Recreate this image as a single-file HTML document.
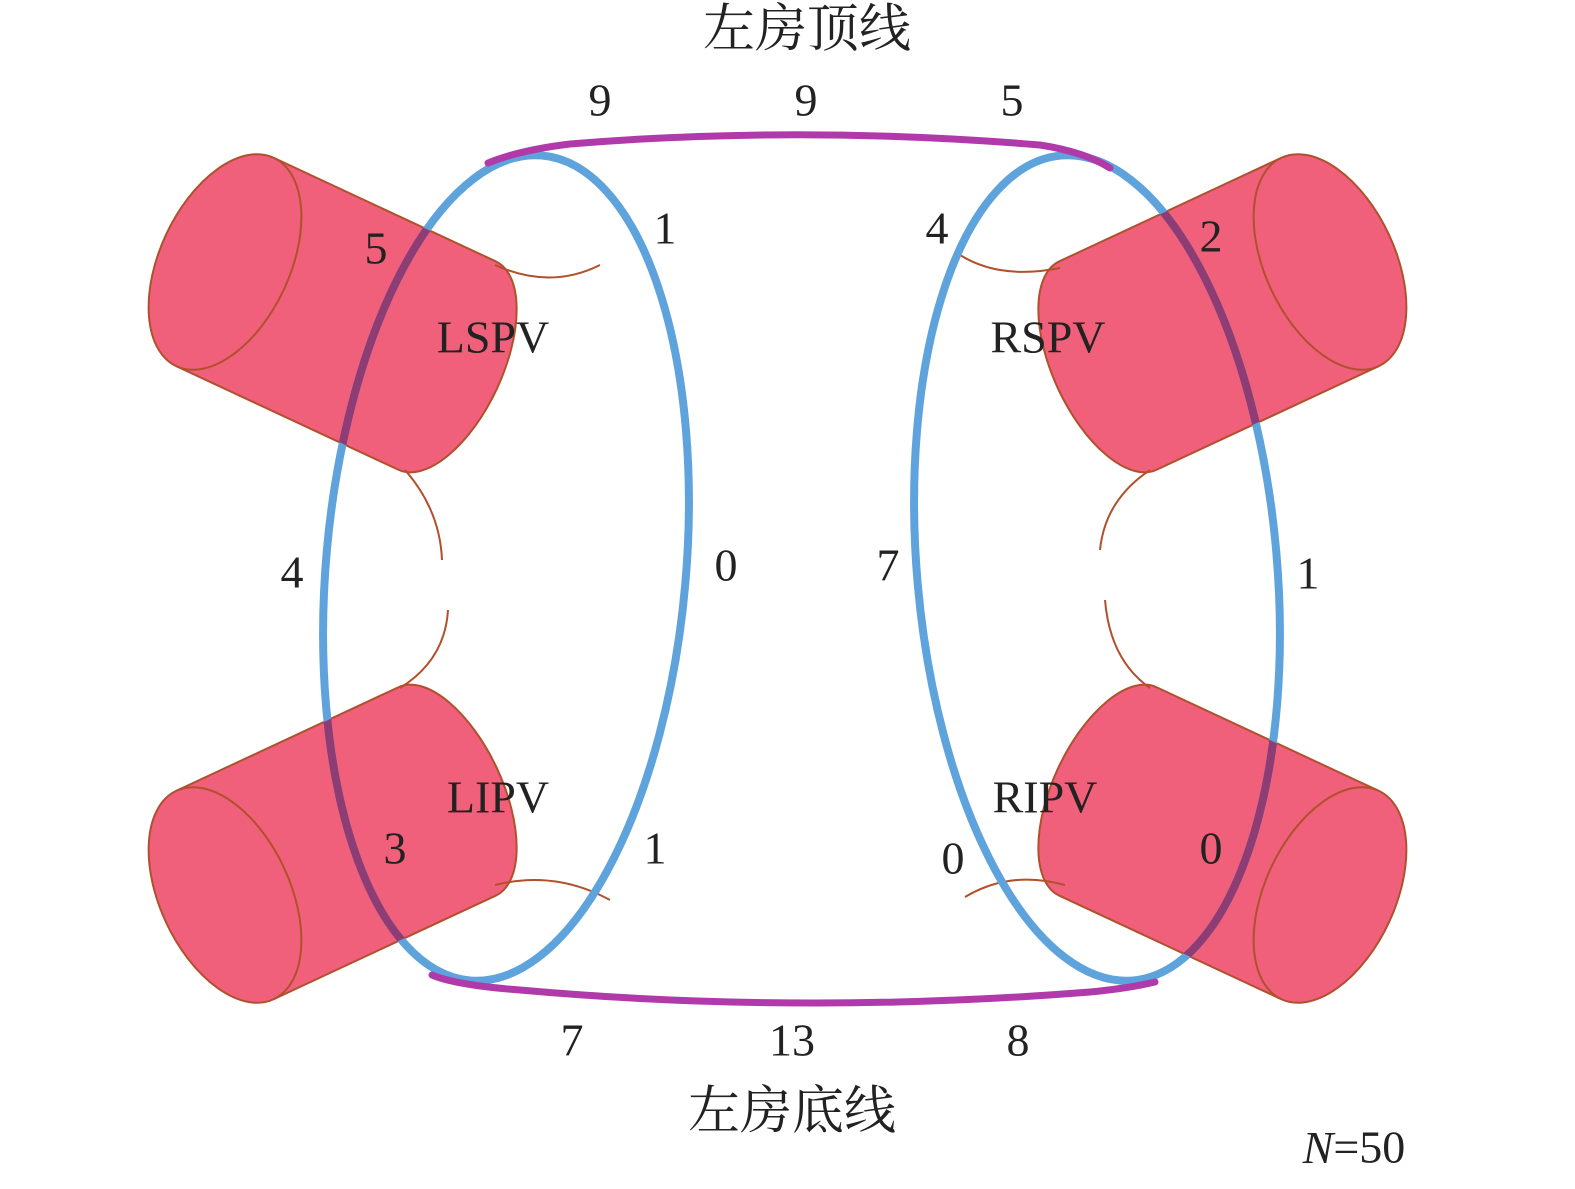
<!DOCTYPE html>
<html><head><meta charset="utf-8"><style>
html,body{margin:0;padding:0;background:#fff;}
svg{display:block;}
text{font-family:"Liberation Serif","Noto Serif CJK SC",serif;fill:#222;}
</style></head><body>
<svg width="1575" height="1189" viewBox="0 0 1575 1189" xmlns="http://www.w3.org/2000/svg">
<defs>
<g id="cyl">
  <path d="M0,-115 L245,-115 A55,115 0 0 1 245,115 L0,115 Z" fill="#f0607a"/>
  <path d="M0,-115 L245,-115 A55,115 0 0 1 245,115 L0,115" fill="none" stroke="#b0502c" stroke-width="2"/>
  <ellipse cx="0" cy="0" rx="65" ry="115" fill="#f0607a" stroke="#b0502c" stroke-width="2"/>
</g>
<path id="cylshape" d="M0,-115 L245,-115 A55,115 0 0 1 245,115 L0,115 A65,115 0 0 1 0,-115 Z"/>
<clipPath id="cc">
  <use href="#cylshape" transform="translate(225,262) rotate(25)"/>
  <use href="#cylshape" transform="translate(225,895) rotate(-25)"/>
  <use href="#cylshape" transform="translate(1555,0) scale(-1,1) translate(225,262) rotate(25)"/>
  <use href="#cylshape" transform="translate(1555,0) scale(-1,1) translate(225,895) rotate(-25)"/>
</clipPath>
<g id="ells">
  <ellipse cx="506" cy="568" rx="180" ry="414" transform="rotate(5 506 568)"/>
  <ellipse cx="1097" cy="568" rx="180" ry="414" transform="rotate(-5 1097 568)"/>
</g>
</defs>
<!-- cylinders -->
<g transform="translate(225,262) rotate(25)"><use href="#cyl"/></g>
<g transform="translate(225,895) rotate(-25)"><use href="#cyl"/></g>
<g transform="translate(1555,0) scale(-1,1)">
  <g transform="translate(225,262) rotate(25)"><use href="#cyl"/></g>
  <g transform="translate(225,895) rotate(-25)"><use href="#cyl"/></g>
</g>
<!-- brown curves -->
<g fill="none" stroke="#b0502c" stroke-width="2">
  <path d="M495,265 Q550,290 600,265"/>
  <path d="M405,470 Q440,510 442,560"/>
  <path d="M448,610 Q445,660 400,688"/>
  <path d="M495,885 Q555,870 610,900"/>
  <path d="M960,255 Q1000,280 1060,268"/>
  <path d="M1150,470 Q1105,500 1100,550"/>
  <path d="M1105,600 Q1110,660 1150,688"/>
  <path d="M965,897 Q1010,870 1065,885"/>
</g>
<!-- blue ellipses -->
<use href="#ells" fill="none" stroke="#5fa3dc" stroke-width="8"/>
<g clip-path="url(#cc)"><use href="#ells" fill="none" stroke="#8e3c74" stroke-width="8"/></g>
<!-- purple lines -->
<g fill="none" stroke="#b03aaa" stroke-width="7" stroke-linecap="round">
  <path d="M488,163 Q520,150 570,144 Q800,125 1040,145 Q1085,152 1110,168"/>
  <path d="M432,975 Q455,985 520,990 Q800,1015 1090,992 Q1130,988 1155,982"/>
</g>
<!-- labels -->
<g font-size="46" text-anchor="middle" dominant-baseline="central">
  <text x="600" y="100">9</text><text x="806" y="100">9</text><text x="1012" y="100">5</text>
  <text x="665" y="228">1</text><text x="937" y="228">4</text>
  <text x="376" y="248">5</text><text x="1211" y="236">2</text>
  <text x="493" y="337">LSPV</text><text x="1048" y="337">RSPV</text>
  <text x="292" y="572">4</text><text x="726" y="565">0</text>
  <text x="888" y="565">7</text><text x="1308" y="573">1</text>
  <text x="498" y="797">LIPV</text><text x="1045" y="797">RIPV</text>
  <text x="395" y="848">3</text><text x="655" y="848">1</text>
  <text x="953" y="858">0</text><text x="1211" y="848">0</text>
  <text x="572" y="1040">7</text><text x="792" y="1040">13</text><text x="1018" y="1040">8</text>
  <text x="807" y="30" font-size="52">左房顶线</text>
  <text x="792" y="1112" font-size="52">左房底线</text>
  <text x="1354" y="1147"><tspan font-style="italic">N</tspan>=50</text>
</g>
</svg>
</body></html>
